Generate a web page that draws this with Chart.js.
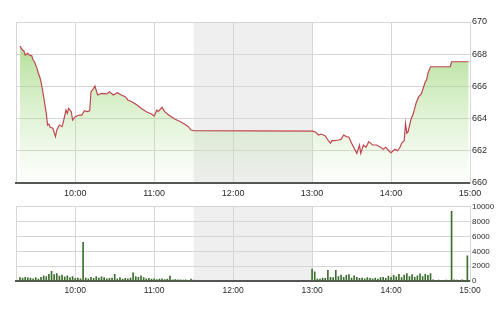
<!DOCTYPE html>
<html>
<head>
<meta charset="utf-8">
<script src="https://cdn.jsdelivr.net/npm/chart.js@4.4.0/dist/chart.umd.min.js"></script>
<style>
  html, body { margin: 0; padding: 0; background: #fff; width: 500px; height: 311px; overflow: hidden; }
  #priceBox { position: absolute; left: 0; top: 0; width: 500px; height: 200px; }
  #volBox { position: absolute; left: 0; top: 200px; width: 500px; height: 111px; }
</style>
</head>
<body>
<div id="priceBox"><canvas id="priceChart"></canvas></div>
<div id="volBox"><canvas id="volChart"></canvas></div>
<script>
// Session window and lunch break
const sessionStart = "9:15";
const sessionEnd = "15:00";
const lunchStart = "11:30";
const lunchEnd = "13:00";
const hourLabels = ["10:00", "11:00", "12:00", "13:00", "14:00", "15:00"];

// Index price (top panel)
const priceTimes = [
  "9:18", "9:20", "9:21", "9:22", "9:24", "9:25", "9:27", "9:28", "9:29", "9:31",
  "9:32", "9:33", "9:34", "9:36", "9:38", "9:39", "9:40", "9:41", "9:43", "9:45",
  "9:46", "9:48", "9:50", "9:51", "9:53", "9:54", "9:55", "9:57", "9:58", "10:00",
  "10:03", "10:05", "10:07", "10:09", "10:11", "10:12", "10:14", "10:15", "10:17", "10:20",
  "10:24", "10:26", "10:29", "10:32", "10:35", "10:38", "10:40", "10:43", "10:47", "10:50",
  "10:54", "10:58", "11:00", "11:02", "11:03", "11:06", "11:08", "11:11", "11:13", "11:16",
  "11:20", "11:23", "11:26", "11:28", "11:30",
  "13:00", "13:02", "13:05", "13:07", "13:10", "13:12", "13:14", "13:15", "13:17", "13:20",
  "13:22", "13:24", "13:26", "13:28", "13:30", "13:34", "13:36", "13:37", "13:39", "13:41",
  "13:43", "13:46", "13:49", "13:52", "13:54", "13:56", "13:59", "14:00", "14:03", "14:05",
  "14:07", "14:08", "14:10", "14:11", "14:12", "14:13", "14:15", "14:17", "14:19", "14:21",
  "14:23", "14:24", "14:26", "14:27", "14:28", "14:30", "14:45", "14:46", "14:59"
];
const priceValues = [
  668.5, 668.26, 668.2, 667.95, 668.05, 667.95, 667.9, 667.64, 667.53, 667.12,
  666.8, 666.6, 666.3, 665.36, 664.33, 663.6, 663.66, 663.46, 663.4, 662.88,
  663.3, 663.6, 663.5, 663.8, 664.53, 664.33, 664.64, 664.43, 663.91, 664.12,
  664.22, 664.22, 664.49, 664.43, 664.49, 665.67, 665.88, 666.02, 665.47, 665.57,
  665.53, 665.67, 665.47, 665.61, 665.47, 665.36, 665.16, 665.05, 664.84, 664.64,
  664.43, 664.29, 664.16, 664.53, 664.43, 664.7, 664.43, 664.22, 664.12, 663.96,
  663.81, 663.66, 663.5, 663.29, 663.25,
  663.22, 663.19, 662.98, 663.04, 662.92, 662.67, 662.47, 662.63, 662.63, 662.67,
  662.71, 662.98, 662.88, 662.84, 662.47, 661.84, 662.36, 661.84, 662.36, 662.22,
  662.57, 662.36, 662.36, 662.22, 662.09, 662.22, 661.94, 661.88, 662.09, 662.0,
  662.25, 662.47, 662.63, 663.71, 663.09, 663.19, 663.91, 664.33, 664.95, 665.36,
  665.53, 665.78, 666.29, 666.4, 666.81, 667.22, 667.22, 667.53, 667.53
];

// Volume (bottom panel), one bar every 2 minutes in each session
const morningVolStart = "9:18";
const morningVolume = [
  450, 400, 500, 420, 380, 300, 450, 250, 500,
  700, 600, 900, 1300, 850, 1000, 650, 800, 550, 700,
  450, 600, 350, 400, 300, 5200, 400, 300, 500, 350,
  600, 400, 550, 450, 300, 350, 400, 900, 300, 450,
  250, 350, 300, 400, 1100, 600, 500, 700, 450, 300,
  350, 250, 300, 200, 250, 300, 200, 250, 650, 150,
  200, 150, 150, 120, 150, 100, 250, 120
];
const afternoonVolStart = "13:00";
const afternoonVolume = [
  1600, 1250, 300, 250, 400, 350, 1450, 500, 450, 1450,
  600, 800, 500, 750, 850, 400, 700, 500, 350, 400,
  300, 450, 350, 300, 400, 250, 450, 500, 350, 650,
  500, 750, 550, 900, 450, 800, 1000, 600, 850, 500,
  700, 950, 600, 900, 750, 1000, 150, 100, 120, 100,
  100, 120, 100, 9400, 150, 120, 100, 150, 100, 3400
];

function toMin(t) {
  const [h, m] = t.split(":").map(Number);
  return h * 60 + m;
}
function toLabel(v) {
  const h = Math.floor(v / 60), m = v % 60;
  return h + ":" + (m < 10 ? "0" : "") + m;
}

const pricePoints = priceTimes.map((t, i) => ({ x: toMin(t), y: priceValues[i] }));
const volPoints = [];
morningVolume.forEach((v, i) => volPoints.push({ x: toMin(morningVolStart) + i * 2, y: v }));
afternoonVolume.forEach((v, i) => volPoints.push({ x: toMin(afternoonVolStart) + i * 2, y: v }));

// grey band for the lunch break, drawn under the grid
const lunchShade = {
  id: "lunchShade",
  beforeDraw(chart) {
    const { ctx, chartArea, scales } = chart;
    const x1 = scales.x.getPixelForValue(toMin(lunchStart));
    const x2 = scales.x.getPixelForValue(toMin(lunchEnd));
    ctx.save();
    ctx.fillStyle = "#efefef";
    ctx.fillRect(x1, chartArea.top, x2 - x1, chartArea.bottom - chartArea.top);
    ctx.restore();
  }
};

const gridColor = "#d6d6d6";
const textColor = "#2a2a2a";
const fontFamily = "'Liberation Sans', Arial, sans-serif";

function timeAxis(height, fontSize, pad) {
  return {
    type: "linear",
    offset: false,
    min: toMin(sessionStart),
    max: toMin(sessionEnd),
    afterBuildTicks: (scale) => {
      scale.ticks = [{ value: toMin(sessionStart) }].concat(hourLabels.map((h) => ({ value: toMin(h) })));
    },
    afterFit: (scale) => { scale.height = height; },
    ticks: {
      autoSkip: false,
      maxRotation: 0,
      padding: pad,
      color: textColor,
      font: { family: fontFamily, size: fontSize },
      callback: (v) => (v === toMin(sessionStart) ? "" : toLabel(v))
    },
    grid: { color: gridColor, drawTicks: false, offset: false },
    border: { color: "#555", width: 2 }
  };
}

Chart.defaults.animation = false;

new Chart(document.getElementById("priceChart"), {
  type: "line",
  data: {
    datasets: [{
      data: pricePoints,
      borderColor: "#c0474f",
      borderWidth: 1.2,
      pointRadius: 0,
      tension: 0,
      fill: "start",
      backgroundColor: (context) => {
        const area = context.chart.chartArea;
        if (!area) return "rgba(150,210,110,0.5)";
        const g = context.chart.ctx.createLinearGradient(0, area.top, 0, area.bottom);
        g.addColorStop(0, "rgba(135,205,95,0.78)");
        g.addColorStop(1, "rgba(190,230,165,0.04)");
        return g;
      }
    }]
  },
  options: {
    responsive: true,
    maintainAspectRatio: false,
    layout: { padding: { left: 16, top: 22, right: 0, bottom: 0 } },
    plugins: { legend: { display: false }, tooltip: { enabled: false } },
    scales: {
      x: timeAxis(17, 9, 5),
      y: {
        position: "right",
        min: 660,
        max: 670,
        afterFit: (scale) => { scale.width = 30; },
        ticks: { stepSize: 2, padding: 2, color: textColor, font: { family: fontFamily, size: 9 } },
        grid: { color: gridColor, drawTicks: false },
        border: { color: gridColor }
      }
    }
  },
  plugins: [lunchShade]
});

new Chart(document.getElementById("volChart"), {
  type: "bar",
  data: {
    datasets: [{
      data: volPoints,
      backgroundColor: "#3d6e30",
      barThickness: 1
    }]
  },
  options: {
    responsive: true,
    maintainAspectRatio: false,
    layout: { padding: { left: 16, top: 5, right: 0, bottom: 0 } },
    plugins: { legend: { display: false }, tooltip: { enabled: false } },
    scales: {
      x: timeAxis(30, 8.5, 5),
      y: {
        position: "right",
        min: 0,
        max: 10000,
        afterFit: (scale) => { scale.width = 30; },
        ticks: {
          stepSize: 2000, padding: 2, color: textColor,
          font: { family: fontFamily, size: 8 },
          callback: (v) => String(v)
        },
        grid: { color: gridColor, drawTicks: false },
        border: { color: gridColor }
      }
    }
  },
  plugins: [lunchShade]
});
</script>
</body>
</html>
